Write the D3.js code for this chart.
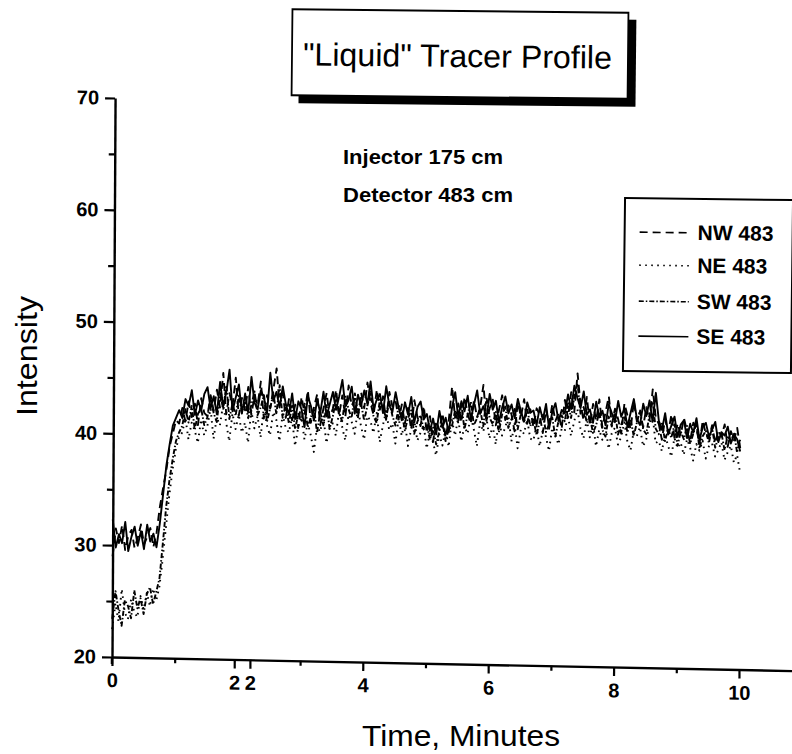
<!DOCTYPE html>
<html>
<head>
<meta charset="utf-8">
<script src="https://cdn.jsdelivr.net/npm/d3@7"></script>
<style>
  html, body { margin: 0; padding: 0; background: #fff; }
  svg { display: block; font-family: "Liberation Sans", Arial, Helvetica, sans-serif; }
</style>
</head>
<body>
<svg id="chart" width="792" height="754"></svg>
<script>
// Detector readings, one sample every 0.05 minutes from t = 0 to t = 10
const timeStep = 0.05;

const nw483 = [29.0, 31.5, 30.2, 31.8, 29.6, 30.9, 31.4, 29.8, 30.7, 31.9, 30.1, 30.8, 31.6, 29.9, 31.2, 33.5, 35.2, 36.8, 38.9, 40.1, 41.3, 41.0,
  42.4, 41.2, 43.0, 41.6, 42.8, 40.9, 43.3, 42.0,
  41.7, 43.6, 42.2, 44.1, 42.5, 45.6, 41.9, 43.8, 42.7, 45.2, 41.8, 43.4,
  42.3, 44.4, 41.9, 43.6, 42.8, 44.9, 41.6, 43.7, 42.5, 44.2, 46.1, 42.8, 43.9, 41.7,
  43.4, 41.5, 42.9, 40.8, 43.6, 42.1, 44.2, 41.3, 42.7, 43.9, 41.1, 42.6, 44.0, 41.8,
  42.6, 44.3, 42.0, 43.8, 41.9, 44.7, 42.9, 43.5, 41.8, 44.1, 42.7, 45.0, 43.2, 42.1, 44.4, 42.6, 43.8, 41.7, 44.2, 42.9, 43.4, 41.8,
  43.1, 41.4, 42.8, 40.9, 43.5, 42.0, 41.2, 43.0,
  40.6, 42.1, 39.8, 41.7, 40.9, 42.4, 40.2, 41.8,
  44.8, 42.0, 43.3, 41.6, 43.9, 42.4, 41.5, 43.6, 42.1, 43.0, 45.0, 41.8, 42.9, 43.7, 41.4, 42.8, 44.1, 41.9, 43.2, 42.4, 40.9, 43.5, 42.2, 43.8, 41.6, 42.9,
  41.3, 43.0, 42.4, 40.8, 42.9, 41.6, 43.4, 41.9, 42.6, 41.2,
  43.8, 42.2, 44.5, 42.7, 46.2, 43.4, 42.0, 44.1,
  41.6, 43.5, 42.0, 43.9, 41.4, 42.8, 44.2, 41.7, 43.1, 42.2, 40.9, 43.6, 42.5, 41.3, 43.8, 42.0, 42.9, 41.5, 43.3, 42.1, 44.9, 42.4,
  41.8, 40.4, 42.3, 41.0, 42.7, 40.6, 41.9, 40.9, 42.4, 41.2, 40.3, 42.0, 41.5, 40.1, 42.2, 41.0, 40.6, 41.8, 40.2, 41.4, 40.8, 41.9, 39.9, 41.3, 40.5, 41.6, 39.8];

const ne483 = [22.5, 24.8, 23.2, 26.1, 24.0, 23.4, 25.2, 24.1, 23.6, 25.5, 24.3, 25.8, 24.6, 26.2, 25.1, 26.4, 28.9, 31.8, 34.6, 36.9, 38.7, 39.8,
  40.2, 41.5, 39.6, 41.1, 40.4, 39.3, 41.4, 40.0,
  40.8, 42.4, 39.7, 41.6, 40.9, 42.8, 41.2, 39.5, 42.0, 40.6, 41.9, 40.3,
  41.2, 39.4, 42.3, 40.7, 41.8, 39.9, 42.6, 41.0, 40.1, 42.2, 41.5, 39.6, 42.0, 40.8,
  40.4, 41.7, 39.2, 40.9, 41.8, 39.8, 41.3, 40.2, 38.7, 41.0, 40.5, 41.9, 39.5, 40.8,
  41.3, 40.2, 42.4, 41.0, 39.8, 42.1, 41.5, 40.4, 42.7, 41.1, 39.9, 42.0, 41.6, 40.5, 42.3, 39.7, 41.2, 42.5, 40.8, 41.4, 39.6, 41.9,
  40.3, 41.6, 39.4, 40.9, 41.7, 39.9, 40.6, 41.3,
  39.2, 40.7, 39.8, 38.6, 40.5, 39.5, 40.9, 39.4,
  41.8, 40.4, 42.0, 39.9, 41.3, 40.6, 42.2, 41.0, 39.5, 41.7, 40.8, 42.1, 40.2, 41.4, 39.7, 41.9, 40.5, 41.2, 42.3, 40.0, 41.6, 39.4, 41.1, 40.7, 42.0, 40.3,
  40.1, 41.4, 39.6, 41.0, 40.5, 39.2, 41.3, 40.7, 39.8, 41.2,
  41.0, 42.5, 40.6, 41.9, 43.0, 41.3, 40.4, 42.1,
  40.5, 41.8, 39.7, 41.2, 40.3, 41.6, 39.5, 40.9, 41.4, 39.9, 40.6, 41.9, 40.2, 39.4, 41.1, 40.7, 41.5, 39.8, 40.4, 41.7, 42.6, 40.1,
  40.3, 39.4, 40.8, 39.9, 38.9, 40.6, 39.7, 40.2, 39.1, 40.5, 39.8, 38.6, 40.1, 39.5, 40.4, 38.8, 39.9, 40.2, 39.0, 39.6, 40.3, 38.7, 39.4, 40.0, 38.5, 39.2, 37.6];

const sw483 = [23.4, 25.9, 24.2, 22.8, 25.1, 24.6, 23.5, 26.0, 24.4, 25.3, 23.9, 25.7, 26.3, 24.8, 25.9, 27.1, 30.2, 33.5, 35.9, 37.8, 39.4, 40.2,
  40.8, 42.3, 41.1, 42.6, 40.5, 41.9, 42.4, 40.9,
  41.6, 43.3, 42.0, 41.2, 43.8, 42.4, 44.5, 41.5, 42.9, 41.8, 43.6, 42.1,
  43.1, 41.6, 42.8, 44.0, 41.9, 42.6, 43.7, 41.3, 42.5, 43.9, 42.0, 44.6, 41.7, 42.9,
  41.2, 42.8, 40.7, 42.1, 41.5, 43.0, 40.9, 41.8, 42.6, 40.4, 42.3, 41.1, 42.9, 40.8,
  41.9, 43.4, 42.2, 41.5, 43.7, 42.6, 41.8, 44.0, 42.3, 43.1, 41.6, 42.9, 44.2, 42.0, 41.4, 43.5, 42.7, 41.9, 43.3, 42.1, 41.2, 43.0,
  42.3, 40.8, 41.9, 42.6, 40.5, 41.6, 42.2, 40.9,
  41.4, 40.0, 41.1, 39.6, 40.8, 41.6, 39.9, 41.0,
  41.2, 42.7, 41.6, 43.2, 41.0, 42.3, 43.5, 41.4, 42.0, 42.8, 41.3, 43.9, 42.1, 41.5, 42.6, 40.8, 42.4, 43.1, 41.2, 42.0, 42.9, 41.1, 42.5, 41.7, 43.0, 41.4,
  42.0, 40.6, 41.8, 42.5, 40.9, 41.6, 42.2, 40.5, 41.9, 42.4,
  41.9, 43.6, 42.2, 44.1, 45.3, 42.6, 43.2, 41.8,
  42.3, 40.9, 41.6, 42.8, 41.2, 40.6, 42.4, 41.5, 42.9, 40.8, 41.7, 42.5, 41.0, 42.2, 40.7, 41.9, 43.0, 41.3, 40.9, 42.6, 43.8, 41.4,
  40.9, 42.0, 40.3, 41.4, 40.6, 41.8, 39.9, 41.2, 40.5, 41.7, 40.1, 41.0, 41.9, 39.7, 40.8, 41.3, 40.2, 41.6, 39.8, 40.7, 41.1, 39.6, 40.9, 40.3, 41.2, 39.4, 40.6];

const se483 = [32.3, 29.8, 31.0, 30.2, 32.1, 29.5, 30.8, 31.7, 30.0, 31.3, 29.7, 31.9, 30.4, 31.1, 29.9, 32.0, 34.6, 37.2, 39.1, 40.8, 41.5, 42.2,
  41.5, 43.2, 42.6, 44.0, 41.8, 43.1, 42.2, 43.7,
  44.3, 42.4, 43.5, 41.9, 44.8, 42.6, 43.9, 45.9, 42.2, 43.4, 44.6, 42.0,
  43.8, 42.1, 45.3, 43.0, 42.4, 44.1, 43.5, 42.0, 45.7, 43.2, 44.0, 42.6, 44.5, 42.9,
  42.0, 43.9, 41.6, 43.2, 42.5, 40.9, 43.7, 42.8, 41.5, 43.4, 42.2, 44.1, 41.9, 43.0,
  44.1, 42.5, 43.7, 45.2, 42.8, 43.4, 44.6, 42.2, 43.9, 42.9, 44.3, 43.1, 45.1, 42.6, 43.5, 44.0, 42.3, 44.7, 43.0, 42.4, 44.2, 42.8,
  41.7, 43.3, 42.2, 43.8, 41.5, 42.9, 43.4, 41.8,
  42.3, 40.8, 41.9, 40.5, 42.6, 41.1, 42.0, 40.7,
  42.9, 44.3, 42.1, 43.5, 42.6, 44.0, 41.9, 43.2, 44.5, 42.4, 43.1, 42.0, 44.2, 42.8, 43.6, 41.7, 43.0, 44.0, 42.5, 43.3, 42.1, 43.8, 42.7, 41.8, 43.5, 42.6,
  42.8, 41.5, 43.1, 42.0, 43.4, 41.2, 42.7, 43.5, 41.9, 42.9,
  42.6, 44.3, 43.0, 45.1, 44.0, 43.1, 44.6, 42.5,
  43.0, 41.8, 43.7, 42.3, 42.9, 41.6, 43.5, 42.7, 41.9, 43.8, 42.4, 43.1, 41.5, 42.8, 44.0, 42.2, 41.7, 43.6, 42.5, 43.9, 42.0, 44.6,
  42.1, 41.3, 42.8, 40.9, 41.7, 42.5, 40.7, 41.8, 42.2, 40.6, 41.9, 41.1, 42.4, 40.5, 41.6, 42.0, 40.8, 41.4, 42.1, 40.3, 41.2, 40.9, 41.7, 40.2, 41.0, 40.6, 39.5];

const seriesNames = ["NW 483", "NE 483", "SW 483", "SE 483"];
const seriesDash = ["8,5", "1.6,4.4", "5,2,1.5,2", null];

const yMajorTicks = [20, 30, 40, 50, 60, 70];
const yMinorTicks = [25, 35, 45, 55, 65];
const xMajorTicks = [0, 1.95, 2.2, 4, 6, 8, 10];
const xTickLabels = ["0", "2", "2", "4", "6", "8", "10"];
const xMinorTicks = [1, 3, 5, 7, 9];

const titleText = "\"Liquid\" Tracer Profile";
const noteLines = ["Injector 175 cm", "Detector 483 cm"];
const xTitle = "Time, Minutes";
const yTitle = "Intensity";

const svg = d3.select("#chart");

// The plotted frame sits slightly askew on the page
const plot = svg.append("g")
  .attr("transform", "translate(112,657) matrix(1,0.02,-0.0055,1,0,0)");

const x = d3.scaleLinear().domain([0, 11.2]).range([0, 627 * 1.12]);
const y = d3.scaleLinear().domain([20, 70]).range([0, -559]);

const allSeries = [nw483, ne483, sw483, se483];

const line = d3.line()
  .x((d, i) => x(i * timeStep))
  .y(d => y(d));

plot.append("g").selectAll("path")
  .data(allSeries)
  .join("path")
  .attr("d", d => line(d))
  .attr("fill", "none")
  .attr("stroke", "#000")
  .attr("stroke-width", 1.9)
  .attr("stroke-linejoin", "round")
  .attr("stroke-dasharray", (d, i) => seriesDash[i]);

// Y axis
const yAxis = d3.axisLeft(y).tickValues(yMajorTicks).tickSize(10).tickSizeOuter(0).tickPadding(6);
plot.append("g").call(yAxis);
plot.append("g").call(d3.axisLeft(y).tickValues(yMinorTicks).tickSize(6).tickSizeOuter(0).tickFormat(""))
  .select(".domain").remove();

// X axis
const xAxis = d3.axisBottom(x).tickValues(xMajorTicks).tickSize(9).tickSizeOuter(0)
  .tickPadding(7).tickFormat((d, i) => xTickLabels[i]);
plot.append("g").call(xAxis);
plot.append("g").call(d3.axisBottom(x).tickValues(xMinorTicks).tickSize(5).tickSizeOuter(0).tickFormat(""))
  .select(".domain").remove();

// y axis runs a little below the origin
plot.append("line").attr("x1", 0).attr("x2", 0).attr("y1", 0).attr("y2", 7)
  .attr("stroke", "#000").attr("stroke-width", 2.4);

plot.selectAll(".domain").attr("stroke", "#000").attr("stroke-width", 2.4);
plot.selectAll(".tick line").attr("stroke", "#000").attr("stroke-width", 2.2);
plot.selectAll(".tick text")
  .attr("fill", "#000")
  .style("font-family", "\"Liberation Sans\", Arial, sans-serif")
  .style("font-size", "20px")
  .style("font-weight", "bold");

// Axis titles
svg.append("text")
  .attr("x", 461).attr("y", 746)
  .attr("text-anchor", "middle")
  .attr("textLength", 198).attr("lengthAdjust", "spacingAndGlyphs")
  .style("font-size", "29px")
  .text(xTitle);

svg.append("text")
  .attr("transform", "translate(37,356) rotate(-90)")
  .attr("text-anchor", "middle")
  .attr("textLength", 120).attr("lengthAdjust", "spacingAndGlyphs")
  .style("font-size", "29px")
  .text(yTitle);

// Title box with drop shadow
const titleG = svg.append("g").attr("transform", "rotate(0.6,460,55)");
titleG.append("rect").attr("x", 299).attr("y", 18).attr("width", 337).attr("height", 87).attr("fill", "#000");
titleG.append("rect").attr("x", 292).attr("y", 11).attr("width", 336).attr("height", 86)
  .attr("fill", "#fff").attr("stroke", "#000").attr("stroke-width", 1.8);
titleG.append("text")
  .attr("x", 303).attr("y", 67)
  .attr("textLength", 309).attr("lengthAdjust", "spacingAndGlyphs")
  .style("font-size", "32px")
  .text(titleText);

// Injection / detection notes
svg.append("g").selectAll("text")
  .data(noteLines)
  .join("text")
  .attr("x", 343)
  .attr("y", (d, i) => 164 + i * 38)
  .attr("textLength", (d, i) => i === 0 ? 160 : 170)
  .attr("lengthAdjust", "spacingAndGlyphs")
  .style("font-size", "21px")
  .style("font-weight", "bold")
  .text(d => d);

// Legend
const legendG = svg.append("g").attr("transform", "rotate(0.7,707,285)");
legendG.append("rect").attr("x", 624).attr("y", 199).attr("width", 168).attr("height", 173)
  .attr("fill", "#fff").attr("stroke", "#000").attr("stroke-width", 2);
const legendRows = [240, 273, 309, 344];
const items = legendG.selectAll("g.item")
  .data(seriesNames)
  .join("g")
  .attr("class", "item");
items.append("line")
  .attr("x1", 639).attr("x2", 689)
  .attr("y1", (d, i) => legendRows[i] - 7).attr("y2", (d, i) => legendRows[i] - 7)
  .attr("stroke", "#000").attr("stroke-width", 1.6)
  .attr("stroke-dasharray", (d, i) => seriesDash[i]);
items.append("text")
  .attr("x", 697)
  .attr("y", (d, i) => legendRows[i])
  .style("font-size", "21px")
  .style("font-weight", "bold")
  .text(d => d);
</script>
</body>
</html>
